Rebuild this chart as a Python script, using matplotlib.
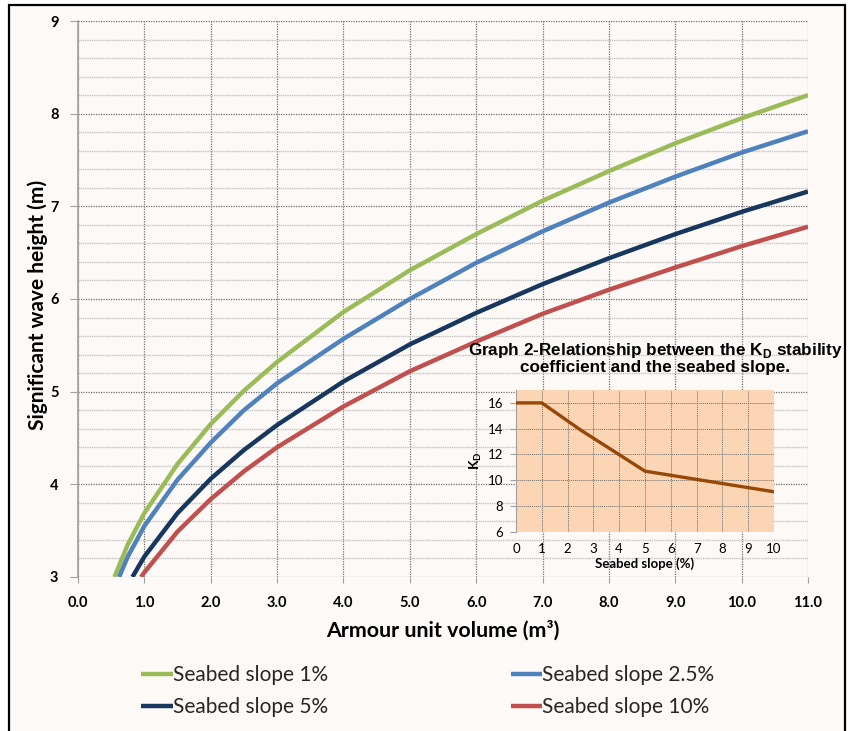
import matplotlib
matplotlib.use("Agg")
import matplotlib.pyplot as plt
from matplotlib.patches import Rectangle
from matplotlib.ticker import MultipleLocator

# main chart: armour unit volume (m3) vs significant wave height (m)
vol_1 = [0.55, 0.75, 1.0, 1.5, 2.0, 2.5, 3.0, 4.0, 5.0, 6.0, 7.0, 8.0, 9.0, 10.0, 11.0]
hs_1 = [3.0, 3.35, 3.69, 4.22, 4.65, 5.01, 5.32, 5.86, 6.31, 6.70, 7.06, 7.38, 7.68, 7.95, 8.20]

vol_25 = [0.62, 0.75, 1.0, 1.5, 2.0, 2.5, 3.0, 4.0, 5.0, 6.0, 7.0, 8.0, 9.0, 10.0, 11.0]
hs_25 = [3.0, 3.22, 3.55, 4.05, 4.45, 4.80, 5.09, 5.57, 6.00, 6.39, 6.73, 7.04, 7.32, 7.58, 7.81]

vol_5 = [0.82, 1.0, 1.5, 2.0, 2.5, 3.0, 4.0, 5.0, 6.0, 7.0, 8.0, 9.0, 10.0, 11.0]
hs_5 = [3.0, 3.22, 3.69, 4.06, 4.37, 4.64, 5.11, 5.51, 5.85, 6.16, 6.44, 6.70, 6.94, 7.16]

vol_10 = [0.95, 1.0, 1.5, 2.0, 2.5, 3.0, 4.0, 5.0, 6.0, 7.0, 8.0, 9.0, 10.0, 11.0]
hs_10 = [3.0, 3.05, 3.49, 3.84, 4.14, 4.40, 4.84, 5.22, 5.54, 5.84, 6.10, 6.34, 6.57, 6.78]

labels = ["Seabed slope 1%", "Seabed slope 2.5%", "Seabed slope 5%", "Seabed slope 10%"]
colors = ["#9bbb59", "#4f81bd", "#17375e", "#c0504d"]

# inset: KD stability coefficient vs seabed slope
slope = [0, 1, 2.5, 5, 10]
kd = [16.0, 16.0, 13.9, 10.7, 9.1]

bg = "#fdf9f6"
fig = plt.figure(figsize=(8.5, 7.31), dpi=100)
fig.patch.set_facecolor("white")
# framed panel (top / left / right border)
fig.patches.append(Rectangle((9 / 850, -0.05), 836 / 850, 1.05 - 5 / 731,
                             transform=fig.transFigure, facecolor=bg,
                             edgecolor="black", linewidth=1.6, zorder=-10))

ax = fig.add_axes([78 / 850, 1 - 577 / 731, 730 / 850, 556 / 731])
ax.set_facecolor(bg)
ax.set_xlim(0, 11)
ax.set_ylim(3, 9)
ax.xaxis.set_major_locator(MultipleLocator(1))
ax.yaxis.set_major_locator(MultipleLocator(1))
ax.yaxis.set_minor_locator(MultipleLocator(0.2))
ax.grid(which="minor", axis="y", color="#c4c4c4", linestyle=(0, (1, 0.6)), linewidth=1.0)
ax.grid(which="major", color="#6f6f6f", linestyle=(0, (1, 1)), linewidth=0.9)
ax.set_axisbelow(True)
for s in ["top", "right", "bottom"]:
    ax.spines[s].set_visible(False)
ax.spines["left"].set_color("#a0a0a0")
ax.spines["left"].set_linewidth(1.2)
ax.tick_params(axis="y", which="minor", length=0)
ax.tick_params(axis="y", which="major", length=6, color="#a0a0a0", pad=8)
ax.tick_params(axis="x", which="major", length=4, color="#a0a0a0", pad=10)

tick_font = dict(family="Lato", weight="bold", size=10.5)
ax.set_xticks(range(0, 12))
ax.set_xticklabels([f"{v:.1f}" for v in range(0, 12)], **tick_font)
ax.set_yticks(range(3, 10))
ax.set_yticklabels([str(v) for v in range(3, 10)], **tick_font)

series = [(vol_1, hs_1), (vol_25, hs_25), (vol_5, hs_5), (vol_10, hs_10)]
handles = []
for (xs, ys), c, lab in zip(series, colors, labels):
    h, = ax.plot(xs, ys, color=c, linewidth=3.2, label=lab, solid_capstyle="butt", zorder=3)
    handles.append(h)

ax.set_xlabel("Armour unit volume (m³)", family="Lato", weight="bold", fontsize=15.4, labelpad=7)
ax.set_ylabel("Significant wave height (m)", family="Lato", weight="bold", fontsize=15, labelpad=4)
ax.yaxis.set_label_coords(-30 / 730, 0.49)

leg = fig.legend([handles[0], handles[2], handles[1], handles[3]],
                 [labels[0], labels[2], labels[1], labels[3]],
                 ncol=2, loc="upper left", bbox_to_anchor=(133 / 850, 1 - 657 / 731),
                 frameon=False, prop=dict(family="Lato", size=15),
                 handlelength=1.5, handletextpad=0.0, columnspacing=8.8,
                 labelspacing=0.55, borderaxespad=0)
for t in leg.get_texts():
    t.set_color("#262626")

# inset chart
ins = fig.add_axes([516 / 850, 1 - 531.7 / 731, 258 / 850, 141.7 / 731])
ins.set_facecolor("#fcd5b4")
ins.set_xlim(0, 10)
ins.set_ylim(6, 17)
ins.set_xticks(range(0, 11))
ins.set_yticks(range(6, 17, 2))
ins.grid(color="#6e6e6e", linestyle=(0, (1, 1)), linewidth=0.7)
ins.set_axisbelow(True)
for s in ["top", "right", "bottom"]:
    ins.spines[s].set_visible(False)
ins.spines["left"].set_color("#a0a0a0")
ins.tick_params(axis="y", length=4, color="#a0a0a0", pad=5, labelsize=9.5)
ins.tick_params(axis="x", length=0, pad=8, labelsize=9.5)
for t in ins.get_xticklabels() + ins.get_yticklabels():
    t.set_family("Lato")
ins.plot(slope, kd, color="#974706", linewidth=2.4, zorder=3)
ins.set_xlabel("Seabed slope (%)", family="Lato", weight="bold", fontsize=9.5, labelpad=2)
ins.set_ylabel("K$_\\mathregular{D}$", family="Lato", weight="bold", fontsize=10, labelpad=3)

fig.text(655 / 850, 1 - 358 / 731,
         "Graph 2-Relationship between the K$_\\mathregular{D}$ stability\ncoefficient and the seabed slope.",
         family="Liberation Sans", weight="bold", fontsize=12.3,
         ha="center", va="center", linespacing=1.0)

fig.savefig("out.png", dpi=100, facecolor=fig.get_facecolor())
